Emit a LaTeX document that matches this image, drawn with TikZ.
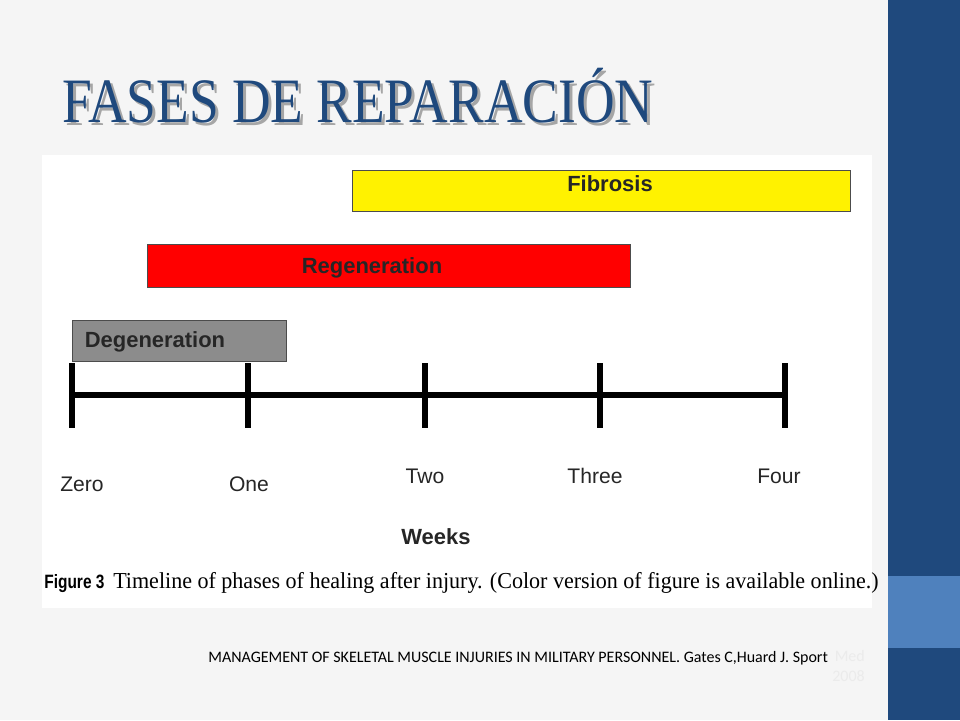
\documentclass[tikz,border=0pt]{standalone}
\usepackage{fontspec}
\setmainfont{Liberation Serif}
\setsansfont{Liberation Sans}
\newfontfamily\slidefont{Carlito}
\definecolor{titleblue}{HTML}{1F497D}
\definecolor{bandlight}{HTML}{4F81BD}
\definecolor{shadegray}{HTML}{8C8C8C}

\newcommand{\tickTop}{363}
\newcommand{\tickBot}{428}
\newcommand{\lineY}{395}

\begin{document}
\begin{tikzpicture}[x=0.02cm, y=-0.02cm,
  phasebar/.style={draw=black!70, line width=0.5pt},
  barlabel/.style={font=\sffamily\bfseries\fontsize{12.5}{14}\selectfont, text=black!85},
  weeklabel/.style={font=\sffamily\fontsize{12}{14}\selectfont, text=black!85},
  tickline/.style={line width=3.3pt, black}]

  % Slide background and band:
  \fill[black!4] (0,0) rectangle (960,720);
  \fill[titleblue] (888,0) rectangle (960,720);
  \fill[bandlight] (888,576) rectangle (960,648);
  \fill[white] (42,155) rectangle (872,608);
  \useasboundingbox (0,0) rectangle (960,720);

  % Title:
  \node[text=black!35, anchor=west, inner sep=0, font=\fontsize{36}{40}\selectfont, xscale=0.845] at (65,99) {FASES DE REPARACIÓN};
  \node[text=titleblue, anchor=west, inner sep=0, font=\fontsize{36}{40}\selectfont, xscale=0.845] (title) at (62,96) {FASES DE REPARACIÓN};

  % Phase bars:
  \draw[phasebar, fill=yellow] (352,170) rectangle (850,211);
  \draw[phasebar, fill=red] (147,244) rectangle (630,287);
  \draw[phasebar, fill=shadegray] (72,320) rectangle (286,361);
  \node[barlabel] (fib) at (610,184) {Fibrosis};
  \node[barlabel] (reg) at (372,268) {Regeneration};
  \node[barlabel] (deg) at (155,342) {Degeneration};

  % Timeline:
  \draw[line width=2.9pt] (72,\lineY) -- (785,\lineY);
  \foreach \tx in {72,248,425,600,785}
    \draw[tickline] (\tx,\tickTop) -- (\tx,\tickBot);

  % Week labels:
  \node[weeklabel] (zero)  at (82,484) {Zero};
  \node[weeklabel] (one)   at (249,484) {One};
  \node[weeklabel] (two)   at (425,476) {Two};
  \node[weeklabel] (three) at (595,476) {Three};
  \node[weeklabel] (four)  at (779,476) {Four};
  \node[barlabel] (weeks) at (436,537) {Weeks};

  % Caption:
  \node[anchor=west, inner sep=0] (cap) at (44,583)
    {{\sffamily\bfseries\fontsize{11}{12}\selectfont\scalebox{0.8}[1]{Figure 3}}\hspace{0.5em}{\fontsize{13}{15}\selectfont\scalebox{0.965}[1]{Timeline of phases of healing after injury. (Color version of figure is available online.)}}};

  % Reference:
  \node[anchor=west, inner sep=0, font=\slidefont\fontsize{9.1}{11}\selectfont] (ref) at (208,658)
    {MANAGEMENT OF SKELETAL MUSCLE INJURIES IN MILITARY PERSONNEL. Gates C,Huard J. Sport};
  \node[anchor=west, inner sep=0, align=right, text=black!8, font=\slidefont\fontsize{9.1}{11}\selectfont] (refend) at (832,666) {Med\\2008};

\end{tikzpicture}
\end{document}
